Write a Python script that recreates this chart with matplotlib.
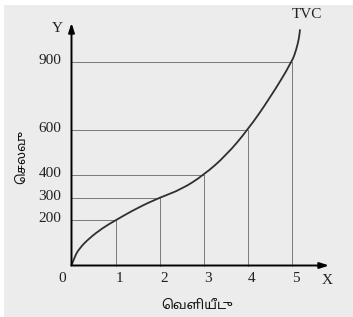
import matplotlib
matplotlib.use("Agg")
import matplotlib.pyplot as plt
from matplotlib.patches import Rectangle, PathPatch
from matplotlib.path import Path

# ---- data ----
output_levels = [1, 2, 3, 4, 5]
cost_levels = [200, 300, 400, 600, 900]
x_tick_labels = ["1", "2", "3", "4", "5"]
y_tick_labels = ["200", "300", "400", "600", "900"]
# TVC curve
curve_x = [0, 0.07, 0.18, 0.4, 0.7, 1.0, 1.5, 2.0, 2.5, 3.0, 3.5, 4.0, 4.5, 5.0,
           5.1, 5.16, 5.18]
curve_y = [0, 39, 76, 120, 165, 200, 255, 300, 337, 400, 485, 600, 740, 900,
           955, 1005, 1040]
x_label = "வெளியீடு"
y_label = "செலவு"
curve_label = "TVC"


def visual_tamil(s):
    # matplotlib has no complex text shaping: move prefix vowel signs before their consonant
    chars = list(s)
    i = 1
    while i < len(chars):
        if chars[i] in "\u0BC6\u0BC7\u0BC8":
            chars[i - 1], chars[i] = chars[i], chars[i - 1]
        i += 1
    return "".join(chars)


W, H = 353, 317
fig = plt.figure(figsize=(W / 100, H / 100), dpi=100, facecolor="white")
fig.patches.append(Rectangle((4 / W, 0), 1, (H - 5) / H, transform=fig.transFigure,
                             facecolor="#ececec", edgecolor="none", zorder=-10))
ax = fig.add_axes([0, 0, 1, 1])
ax.set_facecolor("none")
ax.axis("off")

ox, oy = 71.5, 265.5
sx, sy = 44.1, 0.2264
ax.set_xlim(-ox / sx, (W - ox) / sx)
ax.set_ylim((oy - H) / sy, oy / sy)

serif = ["Liberation Serif", "DejaVu Serif"]
tamil = ["Noto Sans Tamil", "Noto Sans", "Lato", "DejaVu Sans"]

# guide lines
for xv, yv in zip(output_levels, cost_levels):
    ax.plot([0, xv], [yv, yv], color="#7a7a7a", lw=0.7, zorder=2)
    ax.plot([xv, xv], [0, yv], color="#7a7a7a", lw=0.7, zorder=2)

# curve: smooth quadratic path through the read points
pts = list(zip(curve_x, curve_y))
verts = [pts[0]]
codes = [Path.MOVETO]
for i in range(1, len(pts) - 1):
    mid = ((pts[i][0] + pts[i + 1][0]) / 2, (pts[i][1] + pts[i + 1][1]) / 2)
    verts += [pts[i], mid]
    codes += [Path.CURVE3, Path.CURVE3]
verts.append(pts[-1])
codes.append(Path.LINETO)
ax.add_patch(PathPatch(Path(verts, codes), facecolor="none", edgecolor="#2f2f2f",
                       lw=1.3, zorder=3, capstyle="round"))

# axes with arrows
x_end = (329 - ox) / sx
y_end = (oy - 23) / sy
arrow = dict(arrowstyle="-|>,head_length=0.55,head_width=0.18", color="black", lw=1.4,
             shrinkA=0, shrinkB=0)
ax.annotate("", xy=(x_end, 0), xytext=(0, 0), arrowprops=arrow, zorder=4)
ax.annotate("", xy=(0, y_end), xytext=(0, 0), arrowprops=arrow, zorder=4)

# tick labels
dx = 4 / sx
for xv, lab in zip(output_levels, x_tick_labels):
    ax.text(xv + dx, -12.8 / sy, lab, ha="center", va="center", fontsize=11,
            family=serif, color="#222222")
for yv, lab in zip(cost_levels, y_tick_labels):
    ax.text(-10 / sx, yv + 1.5 / sy, lab, ha="right", va="center", fontsize=11,
            family=serif, color="#222222")
ax.text(-9.5 / sx, -12.8 / sy, "0", ha="center", va="center", fontsize=11,
        family=serif, color="#222222")
ax.text((57 - ox) / sx, (oy - 29) / sy, "Y", ha="center", va="center", fontsize=11,
        family=serif, color="#222222")
ax.text((327 - ox) / sx, (oy - 281) / sy, "X", ha="center", va="center", fontsize=11,
        family=serif, color="#222222")
ax.text((307 - ox) / sx, (oy - 15) / sy, curve_label, ha="center", va="center",
        fontsize=11, family=serif, color="#222222")

# axis titles
ax.text((197 - ox) / sx, (oy - 305) / sy, visual_tamil(x_label), ha="center", va="center",
        fontsize=9.5, fontweight="bold", family=tamil, color="#111111")
ax.text((22 - ox) / sx, (oy - 157) / sy, visual_tamil(y_label), ha="center", va="center",
        fontsize=9.3, fontweight="bold", family=tamil, rotation=90, color="#111111")

fig.savefig("out.png", dpi=100, facecolor="white")
